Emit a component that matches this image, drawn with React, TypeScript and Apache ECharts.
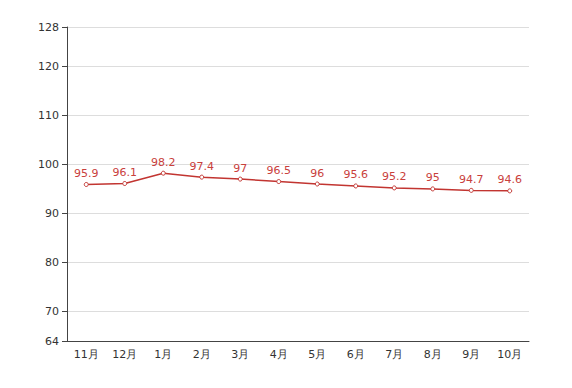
import React, { useEffect, useRef } from "react";
import * as echarts from "echarts";

const categories = ["11月", "12月", "1月", "2月", "3月", "4月", "5月", "6月", "7月", "8月", "9月", "10月"];
const values = [95.9, 96.1, 98.2, 97.4, 97, 96.5, 96, 95.6, 95.2, 95, 94.7, 94.6];
const yMin = 64;
const yMax = 128;

export default function App() {
  const ref = useRef<HTMLDivElement>(null);
  useEffect(() => {
    if (!ref.current) return;
    const chart = echarts.init(ref.current, undefined, { renderer: "svg" });
    chart.setOption({
      animation: false,
      textStyle: { fontFamily: "DejaVu Sans" },
      grid: { left: 59, right: 35, top: 19, bottom: 39 },
      xAxis: {
        type: "category",
        data: categories,
        boundaryGap: true,
        axisLine: { lineStyle: { color: "#444" } },
        axisTick: { lineStyle: { color: "#444" } },
        axisLabel: { color: "#333", fontSize: 11 },
      },
      yAxis: {
        type: "value",
        min: yMin,
        max: yMax,
        axisLine: { show: true, lineStyle: { color: "#444" } },
        axisTick: { show: true, lineStyle: { color: "#444" } },
        axisLabel: { color: "#333", fontSize: 11 },
        splitLine: { lineStyle: { color: "#ddd" } },
      },
      series: [
        {
          type: "line",
          data: values,
          color: "#c23531",
          symbol: "circle",
          symbolSize: 4,
          itemStyle: { color: "#fff", borderColor: "#c23531", borderWidth: 1 },
          lineStyle: { color: "#c23531", width: 1.5 },
          label: { show: true, position: "top", distance: 3, color: "#c9403c", fontSize: 11 },
        },
      ],
    });
    return () => chart.dispose();
  }, []);
  return <div ref={ref} style={{ width: 556, height: 372 }} />;
}
